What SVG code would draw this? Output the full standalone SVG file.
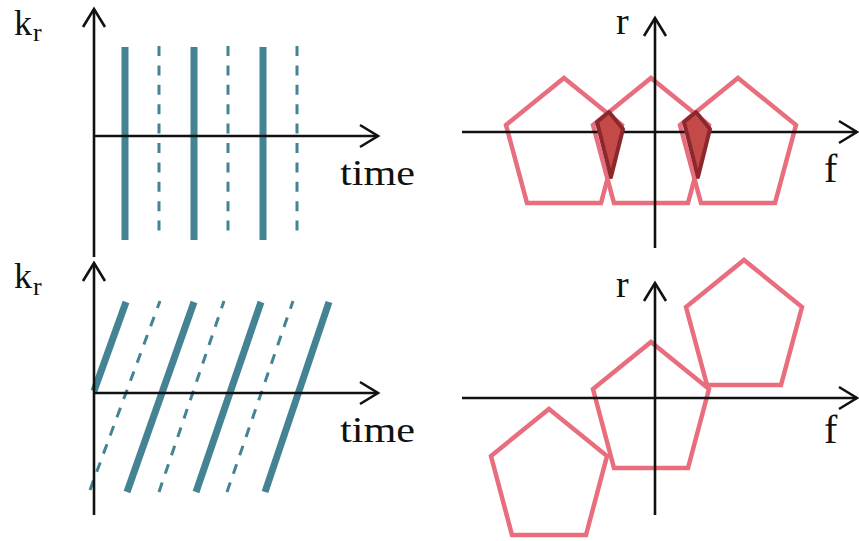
<svg xmlns="http://www.w3.org/2000/svg" width="859" height="541" viewBox="0 0 859 541">
<defs>
<marker id="chev" markerUnits="userSpaceOnUse" markerWidth="40" markerHeight="40" viewBox="-30 -20 40 40" refX="0" refY="0" orient="auto">
<path d="M-18,-11 L0,0 L-18,11" fill="none" stroke="#111" stroke-width="2.6" stroke-linejoin="miter"/>
</marker>
</defs>
<style>
.axis{stroke:#111;stroke-width:2.6;fill:none}
.ax{marker-end:url(#chev)}
.solid{stroke:#438393;stroke-width:7;fill:none}
.dash{stroke:#438393;stroke-width:3;fill:none;stroke-dasharray:10 9.4}
.pent{fill:none;stroke:#e86e7e;stroke-width:4.5;stroke-linejoin:miter}
.kite{fill:#c44a4a;stroke:#8c282d;stroke-width:4;stroke-linejoin:round}
.lbl{font-family:"Liberation Serif","DejaVu Serif",serif;fill:#111}
</style>
<rect width="859" height="541" fill="#fff"/>

<g id="panel-top-left">
<g id="tl-lines">
<line class="solid" x1="125" y1="47" x2="125" y2="240"/>
<line class="solid" x1="194" y1="47" x2="194" y2="240"/>
<line class="solid" x1="263" y1="47" x2="263" y2="240"/>
<line class="dash" x1="159" y1="46" x2="159" y2="240"/>
<line class="dash" x1="228" y1="46" x2="228" y2="240"/>
<line class="dash" x1="297" y1="46" x2="297" y2="240"/>
</g>
<g id="tl-axes">
<line class="axis ax" x1="94" y1="257" x2="94" y2="9"/>
<line class="axis ax" x1="94" y1="136" x2="378" y2="136"/>
</g>
<text class="lbl" x="14" y="35" font-size="36">k</text>
<text class="lbl" x="33" y="41" font-size="26">r</text>
<text class="lbl" x="340" y="185" font-size="36" textLength="75" lengthAdjust="spacingAndGlyphs">time</text>
</g>

<g id="panel-bottom-left">
<g id="bl-lines">
<line class="solid" x1="94" y1="391" x2="126" y2="302"/>
<line class="solid" x1="127" y1="492" x2="194" y2="302"/>
<line class="solid" x1="196" y1="492" x2="261" y2="302"/>
<line class="solid" x1="265" y1="492" x2="329" y2="302"/>
<line class="dash" x1="90" y1="490" x2="160" y2="301"/>
<line class="dash" x1="159" y1="492" x2="224" y2="301"/>
<line class="dash" x1="227" y1="492" x2="293" y2="301"/>
</g>
<g id="bl-axes">
<line class="axis ax" x1="94" y1="515" x2="94" y2="263"/>
<line class="axis ax" x1="94" y1="393" x2="378" y2="393"/>
</g>
<text class="lbl" x="14" y="288" font-size="36">k</text>
<text class="lbl" x="33" y="295" font-size="26">r</text>
<text class="lbl" x="340" y="442" font-size="36" textLength="75" lengthAdjust="spacingAndGlyphs">time</text>
</g>

<g id="panel-top-right">
<g id="tr-pentagons">
<polygon class="pent" points="564,78 622,125 601,203 527,203 506,125"/>
<polygon class="pent" points="651,78 709,125 688,203 614,203 593,125"/>
<polygon class="pent" points="738,78 796,125 775,203 701,203 680,125"/>
</g>
<g id="tr-axes">
<line class="axis ax" x1="655" y1="248" x2="655" y2="18"/>
<line class="axis ax" x1="462" y1="132" x2="857" y2="132"/>
</g>
<g id="tr-overlaps">
<polygon class="kite" points="609,112 623,129 611,177 597,122"/>
<polygon class="kite" points="696,112 710,129 698,177 684,122"/>
</g>
<text class="lbl" x="616" y="34" font-size="38">r</text>
<text class="lbl" x="824" y="182" font-size="40">f</text>
</g>

<g id="panel-bottom-right">
<g id="br-pentagons">
<polygon class="pent" points="651,342 709,389 688,468 614,468 593,389"/>
<polygon class="pent" points="744,260 802,307 781,385 707,385 686,307"/>
<polygon class="pent" points="549,409 607,456 586,535 512,535 491,456"/>
</g>
<g id="br-axes">
<line class="axis ax" x1="655" y1="515" x2="655" y2="283"/>
<line class="axis ax" x1="462" y1="398" x2="857" y2="398"/>
</g>
<text class="lbl" x="616" y="297" font-size="38">r</text>
<text class="lbl" x="824" y="443" font-size="40">f</text>
</g>
</svg>
